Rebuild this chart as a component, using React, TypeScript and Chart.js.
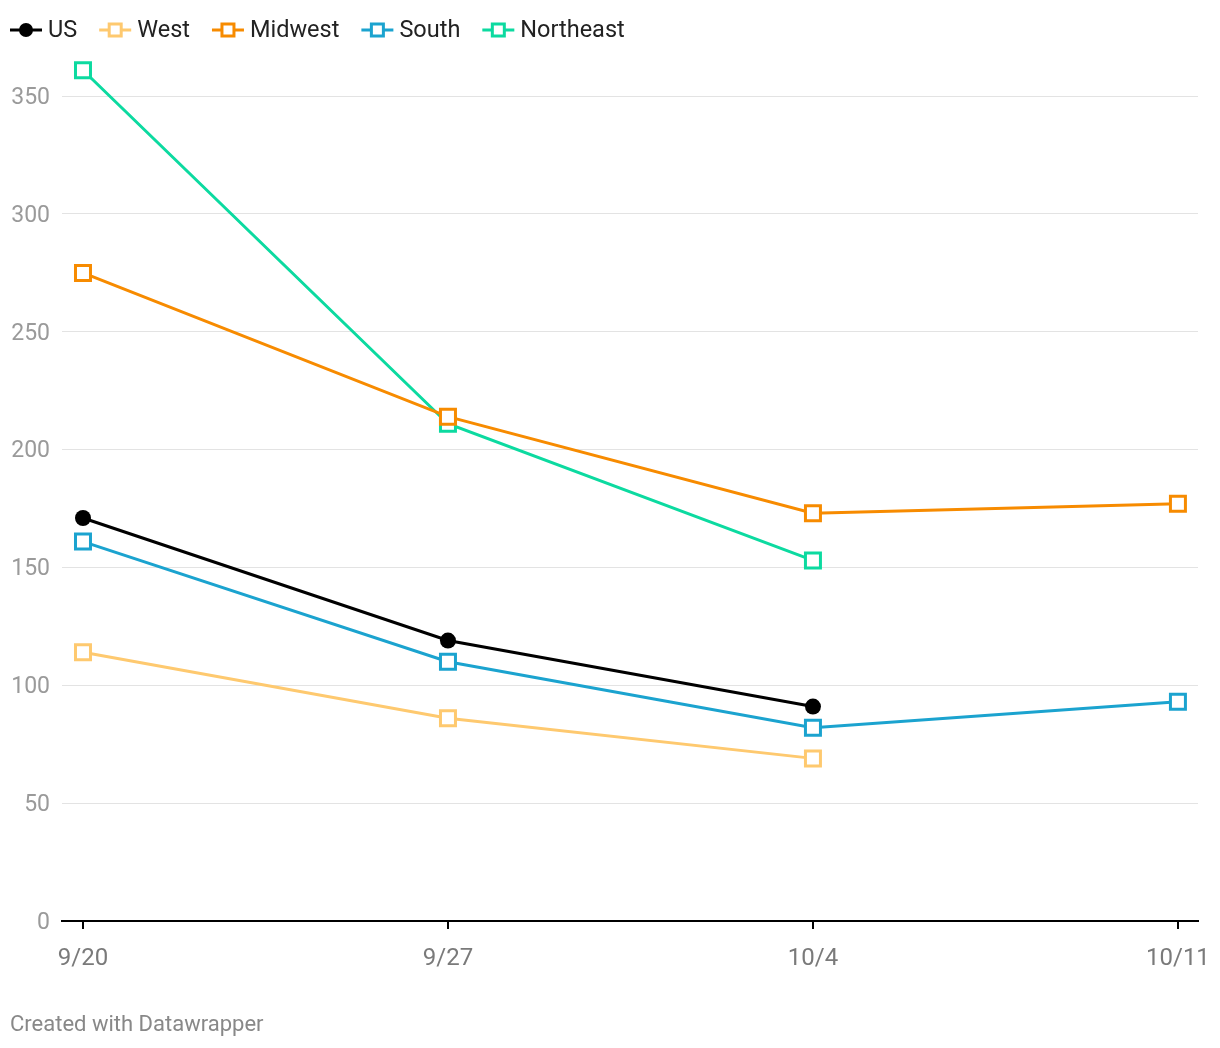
import React, { useEffect, useRef } from "react";
import { Chart, registerables } from "chart.js";

Chart.register(...registerables);

const dates = ["9/20", "9/27", "10/4", "10/11"];
const us = [171, 119, 91, null];
const west = [114, 86, 69, null];
const midwest = [275, 214, 173, 177];
const south = [161, 110, 82, 93];
const northeast = [361, 211, 153, null];
const yTicks = [0, 50, 100, 150, 200, 250, 300, 350];

const seriesNames = ["US", "West", "Midwest", "South", "Northeast"];
const seriesColors = ["#000000", "#fec96f", "#f78b00", "#1ba3cf", "#0cdaa0"];
const seriesValues = [us, west, midwest, south, northeast];

const FONT = "Roboto, 'Noto Sans', sans-serif";

const legendPlugin = {
  id: "customLegend",
  afterDraw(chart: any) {
    const ctx = chart.ctx;
    ctx.save();
    let x = 10;
    const y = 30;
    ctx.font = `23.5px ${FONT}`;
    ctx.textBaseline = "middle";
    ctx.textAlign = "left";
    chart.data.datasets.forEach((ds: any, i: number) => {
      ctx.strokeStyle = ds.borderColor;
      ctx.lineWidth = 3;
      ctx.beginPath();
      ctx.moveTo(x, y);
      ctx.lineTo(x + 32, y);
      ctx.stroke();
      const cx = x + 16;
      if (i === 0) {
        ctx.fillStyle = "#000";
        ctx.beginPath();
        ctx.arc(cx, y, 7, 0, Math.PI * 2);
        ctx.fill();
      } else {
        ctx.fillStyle = "#fff";
        ctx.fillRect(cx - 6, y - 6, 12, 12);
        ctx.strokeStyle = ds.borderColor;
        ctx.lineWidth = 3;
        ctx.strokeRect(cx - 6, y - 6, 12, 12);
      }
      ctx.fillStyle = "#222";
      ctx.fillText(ds.label, x + 38, y + 1);
      x += 38 + ctx.measureText(ds.label).width + 22;
    });
    ctx.font = `22px ${FONT}`;
    ctx.fillStyle = "#888";
    ctx.fillText("Created with Datawrapper", 10, 1025);
    ctx.restore();
  },
};

export default function App() {
  const ref = useRef<HTMLCanvasElement | null>(null);
  useEffect(() => {
    if (!ref.current) return;
    const datasets = seriesNames.map((name, i) => ({
      label: name,
      data: dates
        .map((_, j) => ({ x: j, y: seriesValues[i][j] }))
        .filter((p) => p.y !== null),
      borderColor: seriesColors[i],
      backgroundColor: seriesColors[i],
      borderWidth: 3,
      tension: 0,
      pointStyle: i === 0 ? "circle" : "rect",
      pointRadius: i === 0 ? 8 : 10.6,
      pointBorderWidth: i === 0 ? 0 : 3,
      pointBackgroundColor: i === 0 ? "#000" : "#fff",
      pointBorderColor: seriesColors[i],
      clip: false as any,
    }));
    const chart = new Chart(ref.current, {
      type: "line",
      data: { datasets },
      options: {
        responsive: false,
        animation: false,
        devicePixelRatio: 1,
        layout: { padding: { top: 49, right: 22, left: 0, bottom: 0 } },
        plugins: { legend: { display: false }, tooltip: { enabled: false } },
        scales: {
          x: {
            type: "linear",
            min: -0.0575,
            max: 3.055,
            afterBuildTicks: (s: any) => {
              s.ticks = dates.map((_, i) => ({ value: i }));
            },
            afterFit: (s: any) => {
              s.height = 127;
              s.paddingLeft = 0;
              s.paddingRight = 0;
            },
            border: { display: true, color: "#000", width: 2 },
            grid: {
              display: true,
              drawOnChartArea: false,
              drawTicks: true,
              tickLength: 8,
              color: "#000",
              lineWidth: 2,
            },
            ticks: {
              padding: 16,
              color: "#7a7a7a",
              font: { family: FONT, size: 24 },
              callback: (v: any) => dates[Math.round(Number(v))] ?? "",
              maxRotation: 0,
            },
          },
          y: {
            type: "linear",
            min: 0,
            max: 370,
            afterBuildTicks: (s: any) => {
              s.ticks = yTicks.map((v) => ({ value: v }));
            },
            afterFit: (s: any) => {
              s.width = 62;
              s.paddingTop = 0;
              s.paddingBottom = 0;
            },
            border: { display: false },
            grid: { color: "#e3e3e3", lineWidth: 1, drawTicks: false },
            ticks: {
              padding: 12,
              labelOffset: 2,
              color: "#9a9a9a",
              font: { family: FONT, size: 23 },
            },
          },
        },
      },
      plugins: [legendPlugin],
    });
    return () => chart.destroy();
  }, []);
  return (
    <div style={{ position: "fixed", left: 0, top: 0, width: 1220, height: 1048, background: "#fff" }}>
      <canvas ref={ref} width={1220} height={1048} style={{ width: 1220, height: 1048 }} />
    </div>
  );
}
